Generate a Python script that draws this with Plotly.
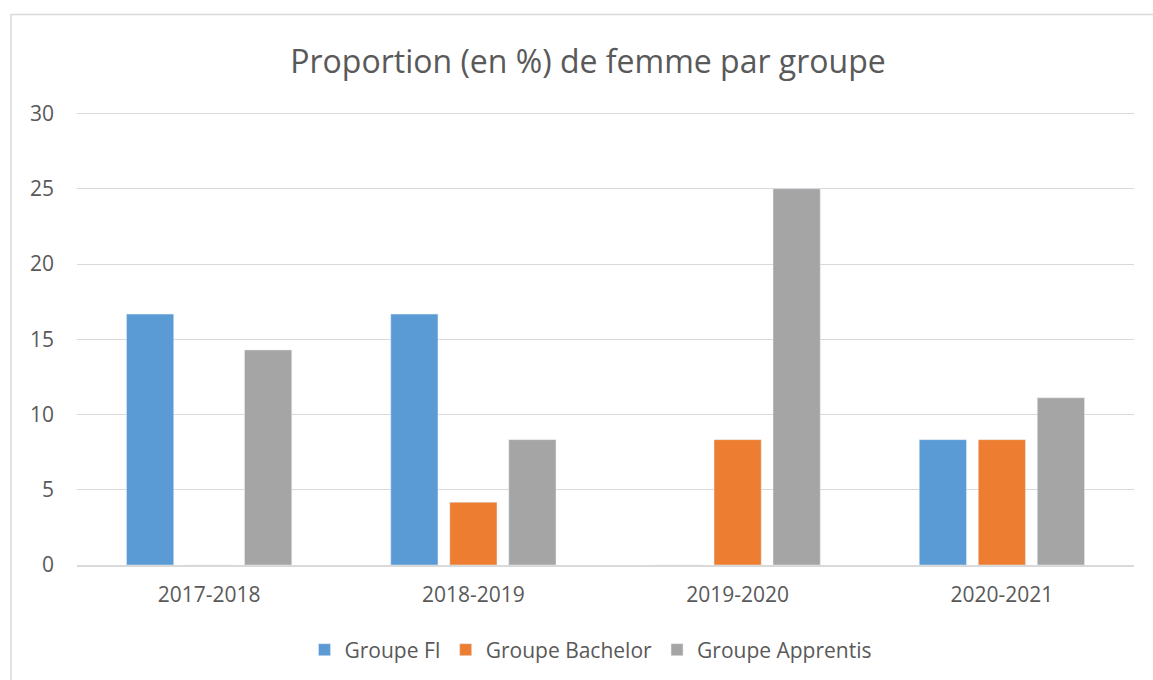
import plotly.graph_objects as go

categories = ["2017-2018", "2018-2019", "2019-2020", "2020-2021"]
groupe_fi = [16.67, 16.67, 0, 8.33]
groupe_bachelor = [0, 4.17, 8.33, 8.33]
groupe_apprentis = [14.29, 8.33, 25, 11.11]
y_ticks = [0, 5, 10, 15, 20, 25, 30]
Y_MAX = 30.1

FONT = "Open Sans"
TXT = "#595959"
GRID = "#d9d9d9"

W, H = 1153, 680

px_per_unit = (565 - 114) / 30
L = 77
R = W - 1134
B = H - 565
T = 565 - Y_MAX * px_per_unit
pw, ph = W - L - R, H - T - B

def px_x(p):
    return (p - L) / pw

def px_y(p):
    return (H - B - p) / ph

fig = go.Figure()
fig.add_trace(go.Bar(name="Groupe FI", x=categories, y=groupe_fi, marker_color="#5b9bd5"))
fig.add_trace(go.Bar(name="Groupe Bachelor", x=categories, y=groupe_bachelor, marker_color="#ed7d31"))
fig.add_trace(go.Bar(name="Groupe Apprentis", x=categories, y=groupe_apprentis, marker_color="#a5a5a5"))

fig.update_layout(
    width=W, height=H,
    margin=dict(l=L, r=R, t=T, b=B),
    paper_bgcolor="white", plot_bgcolor="white",
    barmode="group", bargap=0.33, bargroupgap=0.2,
    title=dict(text="Proportion (en %) de femme par groupe", x=588 / W, xanchor="center",
               y=1 - 62 / H, yanchor="middle",
               font=dict(family=FONT, size=32, color=TXT)),
    font=dict(family=FONT, color=TXT),
    legend=dict(orientation="h", xref="paper", x=px_x(591), xanchor="center",
                yref="container", y=1 - 650 / H, yanchor="middle",
                font=dict(family=FONT, size=21, color=TXT), bgcolor="rgba(0,0,0,0)"),
    xaxis=dict(showgrid=False, showline=True, linecolor=GRID, linewidth=1.5, automargin=False,
               tickfont=dict(family=FONT, size=21, color=TXT), ticks="", ticklabelstandoff=10),
    yaxis=dict(range=[0, Y_MAX], tickvals=y_ticks, showgrid=True, gridcolor=GRID, gridwidth=1,
               zeroline=False, showline=False, ticks="", automargin=False,
               tickfont=dict(family=FONT, size=21, color=TXT), ticklabelstandoff=22),
    shapes=[dict(type="rect", xref="paper", yref="paper",
                 x0=px_x(11), x1=px_x(1400), y0=px_y(760), y1=px_y(15),
                 line=dict(color=GRID, width=1.5), fillcolor="rgba(0,0,0,0)", layer="below")],
)

fig.write_html("out.html", config={"displayModeBar": False},
               post_script="document.body.style.margin='0';document.body.style.overflow='hidden';")
